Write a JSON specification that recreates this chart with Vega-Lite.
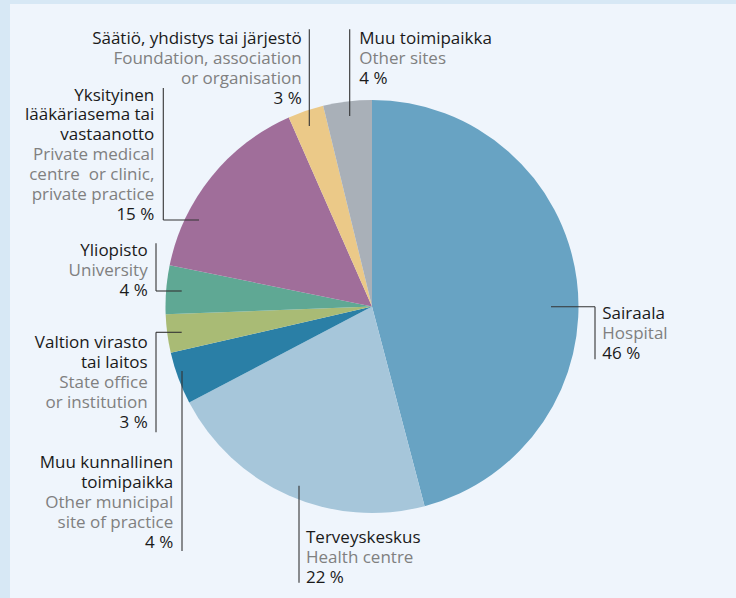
{
  "$schema": "https://vega.github.io/schema/vega-lite/v6.json",
  "width": 726,
  "height": 594,
  "autosize": {"type": "none"},
  "padding": {"left": 10, "top": 4, "right": 0, "bottom": 0},
  "background": "#d7e8f5",
  "config": {"view": {"fill": "#eff5fc", "stroke": null}, "text": {"font": "Open Sans", "fontSize": 17}},
  "datasets": {
    "slices": [
      {"rank": 1, "site": "Sairaala", "share": 45.9},
      {"rank": 2, "site": "Terveyskeskus", "share": 21.4},
      {"rank": 3, "site": "Muu kunnallinen toimipaikka", "share": 4.1},
      {"rank": 4, "site": "Valtion virasto tai laitos", "share": 3.0},
      {"rank": 5, "site": "Yliopisto", "share": 3.8},
      {"rank": 6, "site": "Yksityinen lääkäriasema tai vastaanotto", "share": 15.2},
      {"rank": 7, "site": "Säätiö, yhdistys tai järjestö", "share": 2.8},
      {"rank": 8, "site": "Muu toimipaikka", "share": 3.8}
    ],
    "lines": [
      {"side": "right", "kind": "fi", "t": "Säätiö, yhdistys tai järjestö", "x": -70.3, "y": 262.2},
      {"side": "right", "kind": "en", "t": "Foundation, association", "x": -70.3, "y": 242.2},
      {"side": "right", "kind": "en", "t": "or organisation", "x": -70.3, "y": 222.2},
      {"side": "right", "kind": "pct", "t": "3 %", "x": -70.3, "y": 202.2},
      {"side": "left", "kind": "fi", "t": "Muu toimipaikka", "x": -12.7, "y": 262.2},
      {"side": "left", "kind": "en", "t": "Other sites", "x": -12.7, "y": 242.2},
      {"side": "left", "kind": "pct", "t": "4 %", "x": -12.7, "y": 222.7},
      {"side": "right", "kind": "fi", "t": "Yksityinen", "x": -217.7, "y": 206},
      {"side": "right", "kind": "fi", "t": "lääkäriasema tai", "x": -217.7, "y": 186.2},
      {"side": "right", "kind": "fi", "t": "vastaanotto", "x": -217.7, "y": 166.3},
      {"side": "right", "kind": "en", "t": "Private medical", "x": -217.7, "y": 146.5},
      {"side": "right", "kind": "en", "t": "centre\u00a0 or clinic,", "x": -217.7, "y": 126.7},
      {"side": "right", "kind": "en", "t": "private practice", "x": -217.7, "y": 106.8},
      {"side": "right", "kind": "pct", "t": "15 %", "x": -217.7, "y": 87},
      {"side": "right", "kind": "fi", "t": "Yliopisto", "x": -224.3, "y": 51},
      {"side": "right", "kind": "en", "t": "University", "x": -224.3, "y": 31},
      {"side": "right", "kind": "pct", "t": "4 %", "x": -224.3, "y": 11},
      {"side": "right", "kind": "fi", "t": "Valtion virasto", "x": -224.3, "y": -41.2},
      {"side": "right", "kind": "fi", "t": "tai laitos", "x": -224.3, "y": -61.2},
      {"side": "right", "kind": "en", "t": "State office", "x": -224.3, "y": -81.2},
      {"side": "right", "kind": "en", "t": "or institution", "x": -224.3, "y": -101.2},
      {"side": "right", "kind": "pct", "t": "3 %", "x": -224.3, "y": -121.2},
      {"side": "right", "kind": "fi", "t": "Muu kunnallinen", "x": -198.7, "y": -161.5},
      {"side": "right", "kind": "fi", "t": "toimipaikka", "x": -198.7, "y": -181.5},
      {"side": "right", "kind": "en", "t": "Other municipal", "x": -198.7, "y": -201.5},
      {"side": "right", "kind": "en", "t": "site of practice", "x": -198.7, "y": -221.5},
      {"side": "right", "kind": "pct", "t": "4 %", "x": -198.7, "y": -241.2},
      {"side": "left", "kind": "fi", "t": "Terveyskeskus", "x": -66, "y": -236.2},
      {"side": "left", "kind": "en", "t": "Health centre", "x": -66, "y": -256.2},
      {"side": "left", "kind": "pct", "t": "22 %", "x": -66, "y": -276.2},
      {"side": "left", "kind": "fi", "t": "Sairaala", "x": 230.3, "y": -12.8},
      {"side": "left", "kind": "en", "t": "Hospital", "x": 230.3, "y": -32.8},
      {"side": "left", "kind": "pct", "t": "46 %", "x": 230.3, "y": -52.8}
    ],
    "leaders": [
      {"x": -62.7, "y": 277.2, "x2": -62.7, "y2": 180.5},
      {"x": -22.3, "y": 277.2, "x2": -22.3, "y2": 190.5},
      {"x": -208.7, "y": 218.5, "x2": -208.7, "y2": 86.5},
      {"x": -208.7, "y": 86.5, "x2": -173, "y2": 86.5},
      {"x": -216, "y": 63.2, "x2": -216, "y2": 15.5},
      {"x": -216, "y": 15.5, "x2": -190.3, "y2": 15.5},
      {"x": -216, "y": -25.8, "x2": -190.3, "y2": -25.8},
      {"x": -216, "y": -25.8, "x2": -216, "y2": -125.8},
      {"x": -190, "y": -64.5, "x2": -190, "y2": -244.5},
      {"x": -73, "y": -179.2, "x2": -73, "y2": -276.2},
      {"x": 179, "y": -0.2, "x2": 223, "y2": -0.2},
      {"x": 223, "y": -0.2, "x2": 223, "y2": -52.8}
    ]
  },
  "layer": [
    {
      "data": {"name": "slices"},
      "mark": {"type": "arc", "outerRadius": 206.5},
      "encoding": {
        "x": {"datum": 0, "type": "quantitative", "scale": {"domain": [-362, 364], "nice": false, "zero": false}, "axis": null},
        "y": {"datum": 0, "type": "quantitative", "scale": {"domain": [-291.5, 302.5], "nice": false, "zero": false}, "axis": null},
        "theta": {"field": "share", "type": "quantitative", "stack": true},
        "order": {"field": "rank", "type": "quantitative"},
        "color": {
          "field": "site",
          "type": "nominal",
          "legend": null,
          "scale": {
            "domain": ["Sairaala", "Terveyskeskus", "Muu kunnallinen toimipaikka", "Valtion virasto tai laitos", "Yliopisto", "Yksityinen lääkäriasema tai vastaanotto", "Säätiö, yhdistys tai järjestö", "Muu toimipaikka"],
            "range": ["#68a3c3", "#a6c6da", "#2a7fa6", "#a9bb75", "#5fa894", "#a06e9a", "#ebc988", "#a9b0b8"]
          }
        }
      }
    },
    {
      "data": {"name": "leaders"},
      "mark": {"type": "rule", "color": "#333333", "strokeWidth": 1.1},
      "encoding": {
        "x": {"field": "x", "type": "quantitative"},
        "y": {"field": "y", "type": "quantitative"},
        "x2": {"field": "x2"},
        "y2": {"field": "y2"}
      }
    },
    {
      "data": {"name": "lines"},
      "transform": [{"filter": "datum.side === 'right'"}],
      "mark": {"type": "text", "align": "right", "baseline": "alphabetic"},
      "encoding": {
        "x": {"field": "x", "type": "quantitative"},
        "y": {"field": "y", "type": "quantitative"},
        "text": {"field": "t"},
        "color": {"condition": {"test": "datum.kind === 'en'", "value": "#808080"}, "value": "#1a1a1a"}
      }
    },
    {
      "data": {"name": "lines"},
      "transform": [{"filter": "datum.side === 'left'"}],
      "mark": {"type": "text", "align": "left", "baseline": "alphabetic"},
      "encoding": {
        "x": {"field": "x", "type": "quantitative"},
        "y": {"field": "y", "type": "quantitative"},
        "text": {"field": "t"},
        "color": {"condition": {"test": "datum.kind === 'en'", "value": "#808080"}, "value": "#1a1a1a"}
      }
    }
  ]
}
